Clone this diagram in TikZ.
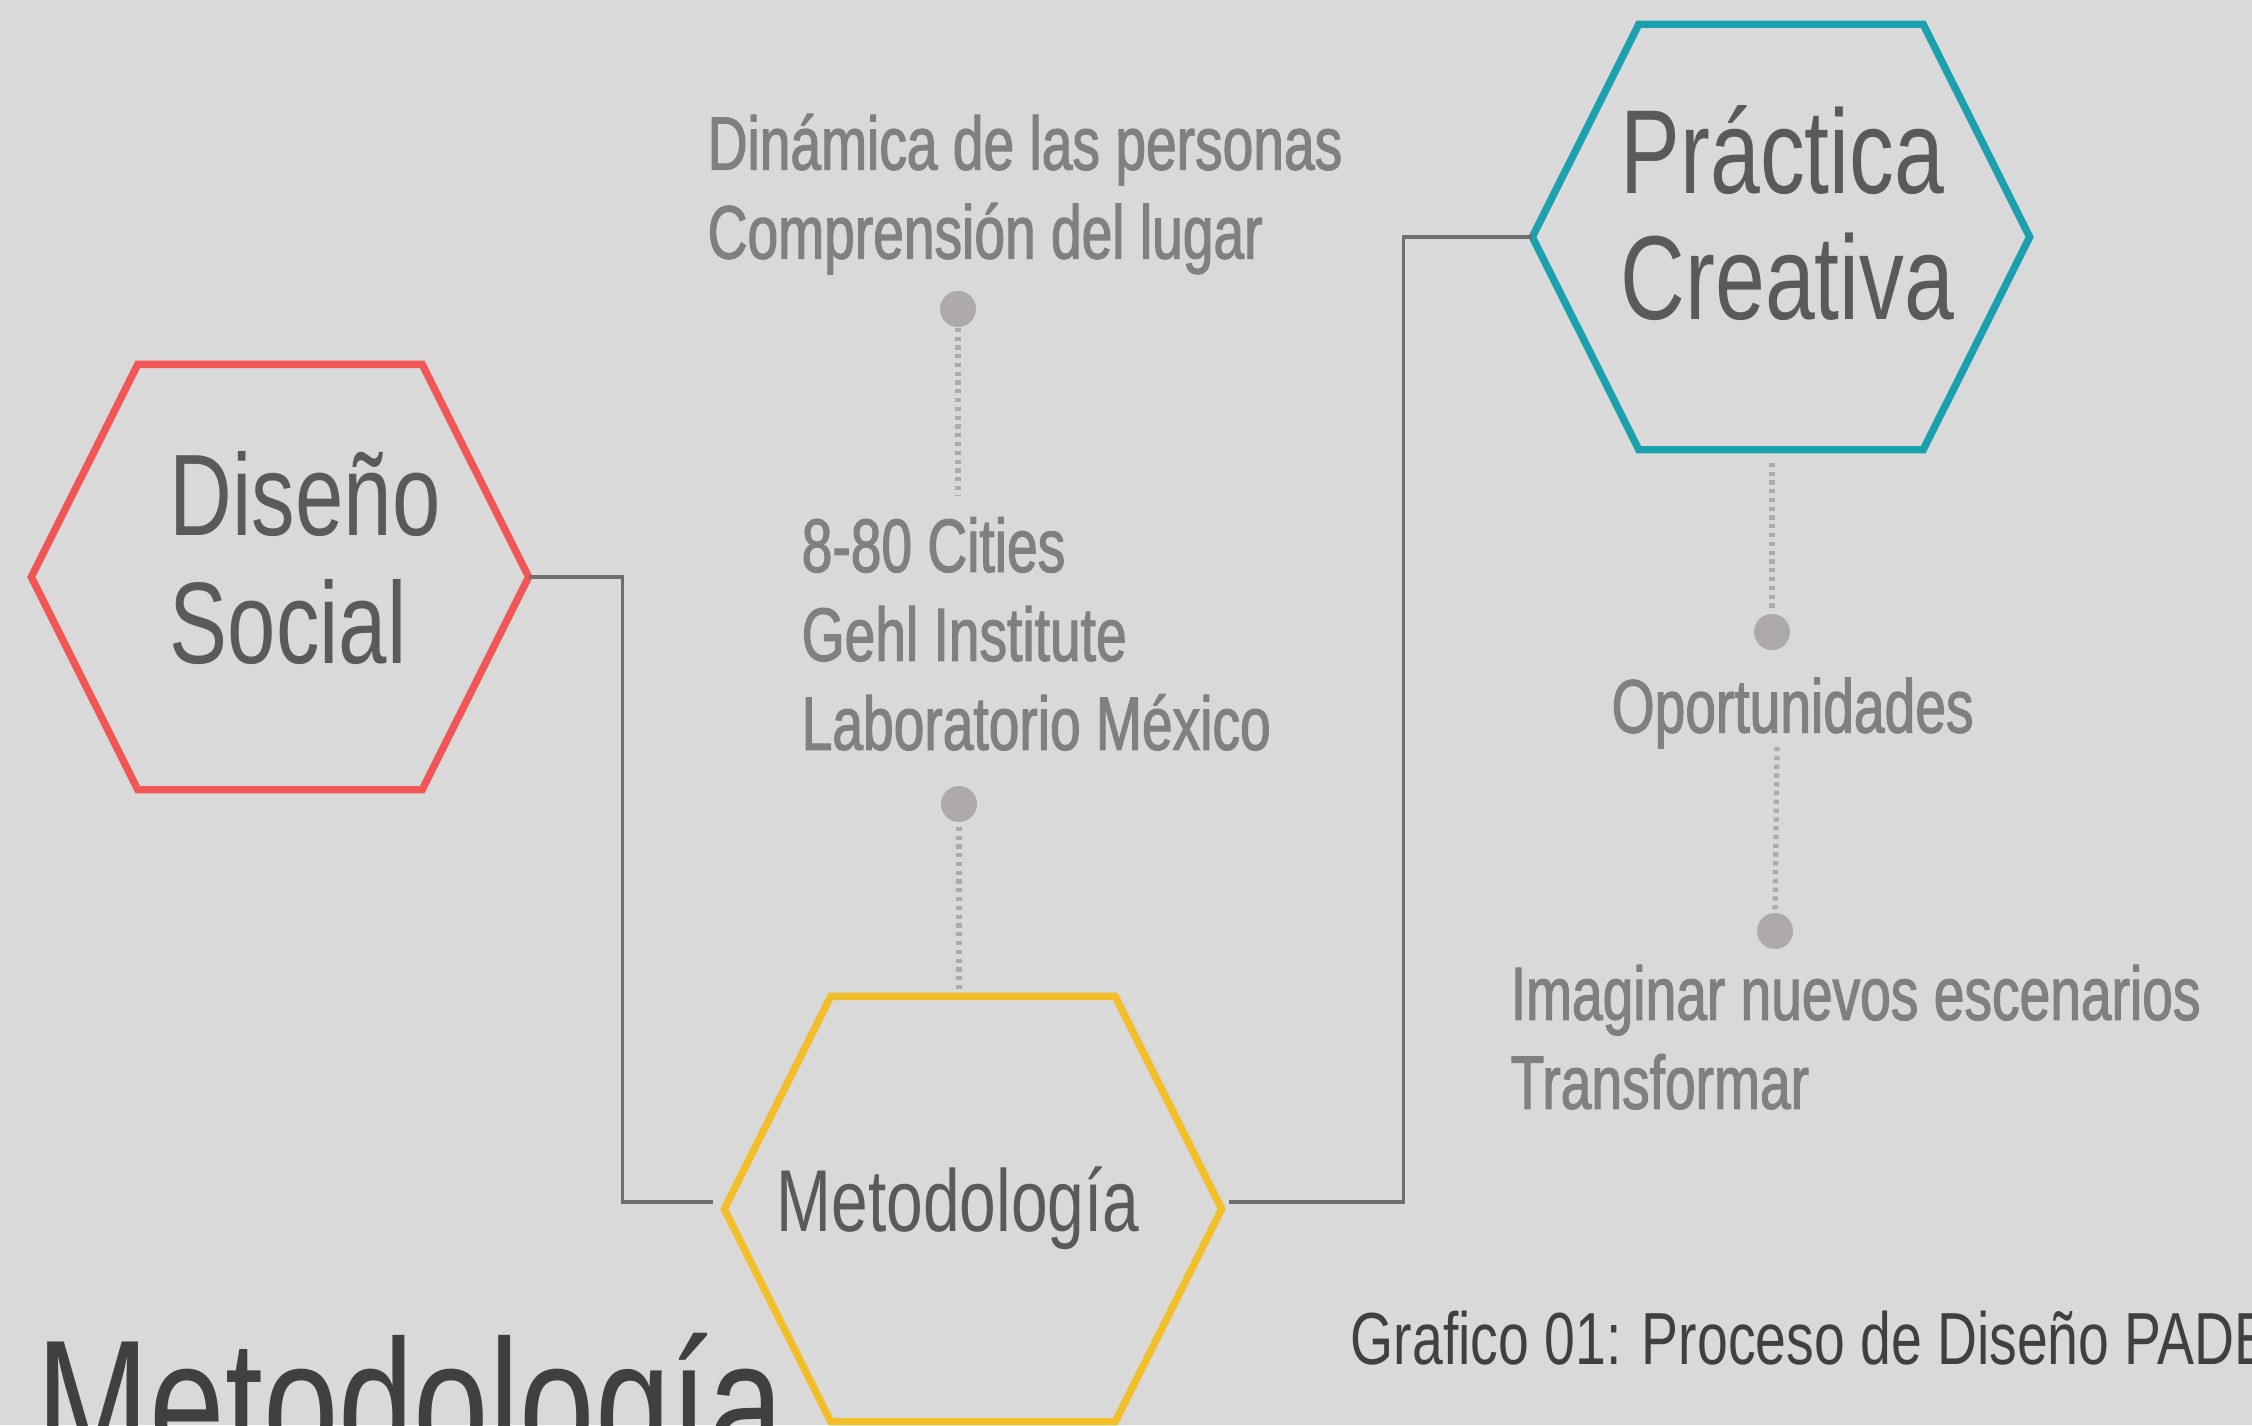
\documentclass[tikz,border=0pt]{standalone}
\usepackage{fontspec}
\usetikzlibrary{calc,positioning}
\newfontfamily\condensada{Liberation Sans}[FakeStretch=0.75]
\newfontfamily\condnota{Liberation Sans}[FakeStretch=0.73, FakeBold=1.5]
\definecolor{FondoGris}{HTML}{D9D9D9}
\definecolor{RojoSocial}{HTML}{F05656}
\definecolor{AzulCreativa}{HTML}{1BA0AE}
\definecolor{AmarilloMetodo}{HTML}{F2BE2A}
\definecolor{TextoOscuro}{HTML}{5A5A5A}
\definecolor{TextoGris}{HTML}{808080}
\definecolor{PuntoGris}{HTML}{ADAAA9}
\definecolor{LineaGris}{HTML}{6E6E6E}
\definecolor{TituloGris}{HTML}{404040}

\tikzset{
  hexagono/.style={minimum width=4.96cm, minimum height=4.24cm, inner sep=0pt},
  borde/.style={line width=2.1pt, line join=miter},
  rotulo/.style={anchor=base west, inner sep=0pt, align=left, text=TextoOscuro},
  nota/.style={anchor=base west, inner sep=0pt, align=left, text=TextoGris,
    font=\condnota\fontsize{21.5}{25.3}\selectfont},
  punto/.style={circle, fill=PuntoGris, minimum size=0.36cm, inner sep=0pt},
  punteado/.style={draw=PuntoGris, line width=1.5pt, dash pattern=on 1.2pt off 1.3pt},
  conector/.style={draw=LineaGris, line width=0.9pt}
}

% borde de un hexagono alrededor de un nodo
\newcommand{\bordehex}[2]{%
  \draw[borde,#2] (#1.west) -- ([xshift=1.065cm]#1.north west)
    -- ([xshift=-1.065cm]#1.north east) -- (#1.east)
    -- ([xshift=-1.065cm]#1.south east) -- ([xshift=1.065cm]#1.south west) -- cycle;}

\begin{document}
\begin{tikzpicture}
  \useasboundingbox (0,0) rectangle (22.52,-14.25);
  \fill[FondoGris] (0,0) rectangle (22.52,-14.25);
  \clip (0,0) rectangle (22.52,-14.25);

  % hexagonos
  \node[hexagono] (ds) at (2.80,-5.77) {};
  \node[hexagono] (mt) at (9.73,-12.09) {};
  \node[hexagono] (pc) at (17.81,-2.37) {};
  \bordehex{ds}{RojoSocial}
  \bordehex{mt}{AmarilloMetodo}
  \bordehex{pc}{AzulCreativa}

  \node[rotulo, font=\condensada\fontsize{33}{36.4}\selectfont] (tds) at (1.69,-6.635) {Diseño\\Social};
  \node[rotulo, font=\condensada\fontsize{34}{35.6}\selectfont] (tpc) at (16.20,-3.19) {Práctica\\Creativa};
  \node[rotulo, font=\condensada\fontsize{25}{30}\selectfont] (tmt) at (7.76,-12.31) {Metodología};

  % notas
  \node[nota] (tdin) at (7.07,-2.585) {Dinámica de las personas\\Comprensión del lugar};
  \node[nota] (tciud) at (8.01,-7.497) {8-80 Cities\\Gehl Institute\\Laboratorio México};
  \node[nota] (topor) at (16.11,-7.325) {Oportunidades};
  \node[nota] (timag) at (15.10,-11.087) {Imaginar nuevos escenarios\\Transformar};

  % puntos y lineas punteadas
  \node[punto] (p1) at (9.58,-3.09) {};
  \node[punto] (p2) at (9.59,-8.04) {};
  \node[punto] (p3) at (17.72,-6.32) {};
  \node[punto] (p4) at (17.75,-9.31) {};
  \coordinate (c1) at (9.58,-4.95);
  \coordinate (c4) at (17.77,-7.47);
  \draw[punteado] (p1.south) -- (c1);
  \draw[punteado, shorten <=0.04cm, shorten >=0.06cm] (p2.south) -- (p2 |- mt.north);
  \draw[punteado, shorten <=0.13cm, shorten >=0.04cm] (p3 |- pc.south) -- (p3.north);
  \draw[punteado] (c4) -- (p4.north);

  % conectores
  \draw[conector] (ds.east) -- ++(0.94,0) |- ([xshift=-0.11cm,yshift=0.07cm]mt.west);
  \draw[conector] ([xshift=0.07cm,yshift=0.07cm]mt.east) -| ([xshift=-1.29cm]pc.west) -- (pc.west);

  % titulo y leyenda
  \node[rotulo, text=TituloGris, font=\condensada\fontsize{51.5}{60}\selectfont] (tgrande) at (0.36,-14.66) {Metodología};
  \node[rotulo, text=TituloGris, font=\condensada\fontsize{21}{25}\selectfont] (leyenda) at (13.50,-13.64) {Grafico 01: Proceso de Diseño PADE};
\end{tikzpicture}
\end{document}
